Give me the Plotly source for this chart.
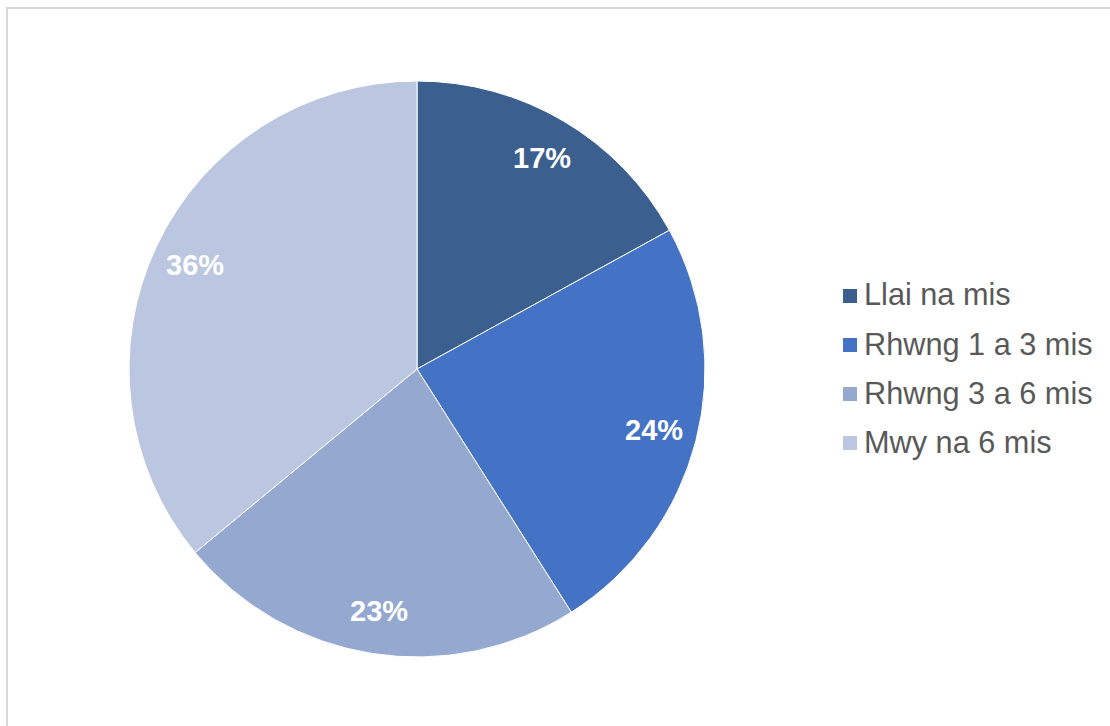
import math
import plotly.graph_objects as go

# Duration categories and their shares (%)
categories = ["Llai na mis", "Rhwng 1 a 3 mis", "Rhwng 3 a 6 mis", "Mwy na 6 mis"]
shares = [17, 24, 23, 36]
colors = ["#3B5F8F", "#4472C4", "#95A9D0", "#BBC7E0"]

W, H = 1110, 726
cx, cy, R = 417, 369, 288  # pie centre and radius in pixels
FONT = "Liberation Sans, Arial"

fig = go.Figure(
    go.Pie(
        labels=categories,
        values=shares,
        sort=False,
        direction="clockwise",
        rotation=0,
        marker=dict(colors=colors, line=dict(color="white", width=1)),
        textinfo="none",
        hoverinfo="label+percent",
        showlegend=False,
        domain=dict(x=[(cx - R) / W, (cx + R) / W], y=[1 - (cy + R) / H, 1 - (cy - R) / H]),
    )
)

# Percentage labels placed at each slice's mid-angle
total = sum(shares)
cum = 0
annotations = []
for v in shares:
    mid = (cum + v / 2) / total * 2 * math.pi
    cum += v
    px = cx + 0.85 * R * math.sin(mid)
    py = cy - 0.85 * R * math.cos(mid)
    annotations.append(
        dict(
            x=px / W, y=1 - py / H, xref="paper", yref="paper",
            text=f"<b>{v}%</b>", showarrow=False,
            font=dict(family=FONT, size=29, color="white"),
            xanchor="center", yanchor="middle",
        )
    )

# Legend: colour swatches with category names on the right
shapes = [
    dict(
        type="rect", xref="paper", yref="paper",
        x0=7 / W, x1=1.05, y0=-0.05, y1=1 - 8 / H,
        line=dict(color="#D9D9D9", width=2), fillcolor="rgba(0,0,0,0)",
    )
]
row0, row_gap, sw = 296, 49, 14
for i, (name, col) in enumerate(zip(categories, colors)):
    yc = row0 + i * row_gap
    shapes.append(
        dict(
            type="rect", xref="paper", yref="paper",
            x0=843 / W, x1=(843 + sw) / W,
            y0=1 - (yc + sw / 2) / H, y1=1 - (yc - sw / 2) / H,
            line=dict(width=0), fillcolor=col,
        )
    )
    annotations.append(
        dict(
            x=862 / W, y=1 - (yc - 1) / H, xref="paper", yref="paper",
            text=name, showarrow=False,
            font=dict(family=FONT, size=30.7, color="#595959"),
            xanchor="left", yanchor="middle",
        )
    )

fig.update_layout(
    width=W, height=H,
    margin=dict(l=0, r=0, t=0, b=0),
    paper_bgcolor="white",
    plot_bgcolor="white",
    annotations=annotations,
    shapes=shapes,
)

fig.write_html("out.html")
